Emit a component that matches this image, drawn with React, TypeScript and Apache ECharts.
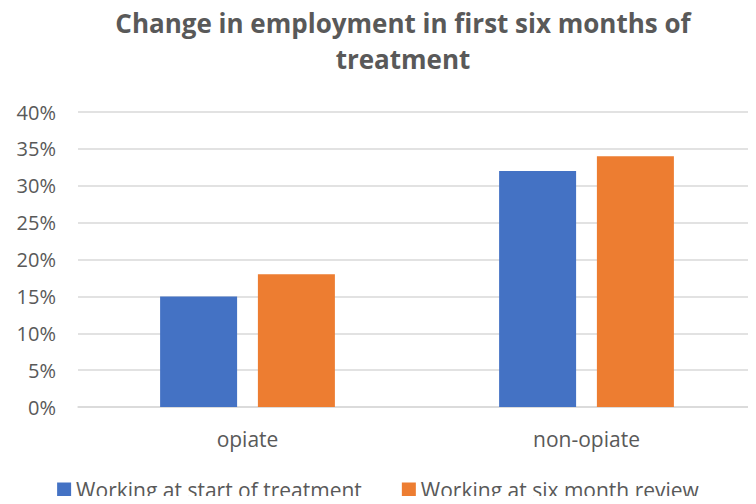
import React, { useEffect, useRef } from "react";
import * as echarts from "echarts";

const categories = ["opiate", "non-opiate"];
const startValues = [15, 32];
const reviewValues = [18, 34];
const seriesNames = ["Working at start of treatment", "Working at six month review"];
const titleText = "Change in employment in first six months of\ntreatment";

export default function App() {
  const ref = useRef<HTMLDivElement>(null);
  useEffect(() => {
    if (!ref.current) return;
    const chart = echarts.init(ref.current, null, { renderer: "svg" });
    const font = "'Open Sans', sans-serif";
    chart.setOption({
      animation: false,
      backgroundColor: "#ffffff",
      title: {
        text: titleText,
        left: 398,
        top: 0,
        textAlign: "center",
        textStyle: {
          fontFamily: font,
          fontWeight: "bold",
          fontSize: 26,
          color: "#595959",
          lineHeight: 36,
        },
      },
      legend: {
        left: "center",
        top: 474,
        icon: "rect",
        itemWidth: 14,
        itemHeight: 14,
        itemGap: 40,
        textStyle: { fontFamily: font, fontSize: 21, color: "#595959" },
        data: seriesNames,
      },
      grid: { left: 78, right: -11, top: 112, bottom: 97, containLabel: false },
      xAxis: {
        type: "category",
        data: categories,
        axisLine: { show: true, lineStyle: { color: "#d9d9d9", width: 1.5 } },
        axisTick: { show: false },
        axisLabel: {
          fontFamily: font,
          fontSize: 21,
          color: "#595959",
          margin: 21,
        },
      },
      yAxis: {
        type: "value",
        min: 0,
        max: 40,
        interval: 5,
        axisLine: { show: false },
        axisTick: { show: false },
        splitLine: { lineStyle: { color: "#d9d9d9", width: 1.5 } },
        axisLabel: {
          fontFamily: font,
          fontSize: 20,
          color: "#595959",
          margin: 22,
          formatter: "{value}%",
        },
      },
      series: [
        {
          name: seriesNames[0],
          type: "bar",
          data: startValues,
          barWidth: 77,
          barGap: "27%",
          itemStyle: { color: "#4472C4" },
        },
        {
          name: seriesNames[1],
          type: "bar",
          data: reviewValues,
          barWidth: 77,
          itemStyle: { color: "#ED7D31" },
        },
      ],
    });
    return () => chart.dispose();
  }, []);
  return <div ref={ref} style={{ width: 756, height: 504, margin: -8 }} />;
}
